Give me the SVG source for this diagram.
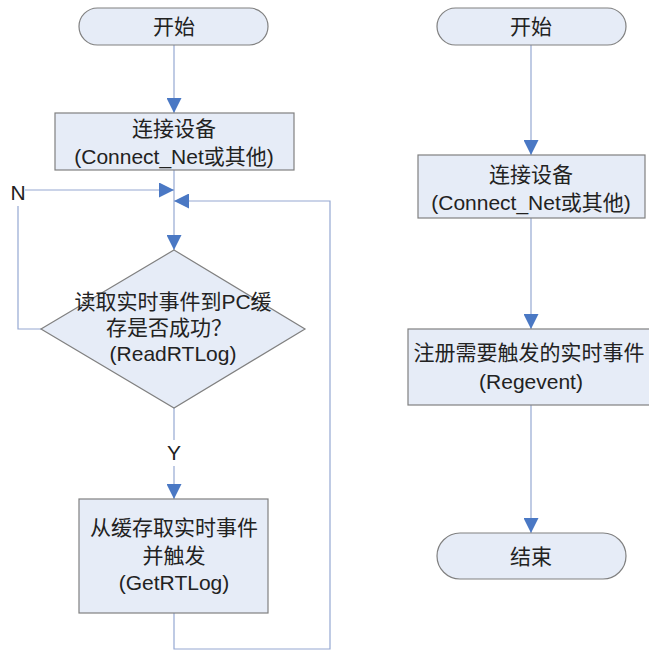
<svg xmlns="http://www.w3.org/2000/svg" width="649" height="650" viewBox="0 0 649 650">
<defs>
<marker id="ah" viewBox="0 0 15 15" refX="15" refY="7.5" markerWidth="15" markerHeight="15" markerUnits="userSpaceOnUse" orient="auto">
<path d="M0,0 L15,7.5 L0,15 z" fill="#4A78C4"/>
</marker>
<style>
.node{fill:#E6ECF7;stroke:#808080;stroke-width:1.2}
.conn{fill:none;stroke:#95A8D2;stroke-width:1.2}
.arr{marker-end:url(#ah)}
text{font-family:"Liberation Sans","Noto Sans CJK SC",sans-serif;font-size:21px;fill:#222;text-anchor:middle}
</style>
</defs>
<rect width="649" height="650" fill="#fff"/>
<g id="connectors">
<path class="conn arr" d="M174,45 V113"/>
<path class="conn arr" d="M174,170 V250"/>
<path class="conn" d="M41,329 H18 V206"/>
<path class="conn arr" d="M25,190 H174"/>
<path class="conn arr" d="M174,613 V649 H330 V201 H174"/>
<path class="conn" d="M174,408 V440"/>
<path class="conn arr" d="M174,466 V499"/>
<path class="conn arr" d="M531,45 V155"/>
<path class="conn arr" d="M531,218 V329"/>
<path class="conn arr" d="M531,405 V533"/>
<text x="18" y="200">N</text>
<text x="174" y="460">Y</text>
</g>
<g id="start1">
<rect class="node" x="79" y="8" width="189" height="37" rx="18.5"/>
<text x="174" y="34">开始</text>
</g>
<g id="connect1">
<rect class="node" x="55" y="113" width="239" height="57"/>
<text x="174" y="136">连接设备</text>
<text x="174" y="164">(Connect_Net或其他)</text>
</g>
<g id="readrtlog">
<polygon class="node" points="174,250 305,329 174,408 41,329"/>
<text x="173" y="309">读取实时事件到PC缓</text>
<text x="169" y="335">存是否成功？</text>
<text x="173" y="361">(ReadRTLog)</text>
</g>
<g id="getrtlog">
<rect class="node" x="79" y="499" width="189" height="114"/>
<text x="174" y="535">从缓存取实时事件</text>
<text x="174" y="563">并触发</text>
<text x="174" y="590">(GetRTLog)</text>
</g>
<g id="start2">
<rect class="node" x="437" y="8" width="189" height="37" rx="18.5"/>
<text x="531" y="34">开始</text>
</g>
<g id="connect2">
<rect class="node" x="418" y="155" width="227" height="63"/>
<text x="531" y="182">连接设备</text>
<text x="531" y="210">(Connect_Net或其他)</text>
</g>
<g id="regevent">
<rect class="node" x="408" y="329" width="246" height="76"/>
<text x="529" y="360">注册需要触发的实时事件</text>
<text x="531" y="389">(Regevent)</text>
</g>
<g id="end">
<rect class="node" x="437" y="533" width="189" height="46" rx="23"/>
<text x="531" y="564">结束</text>
</g>
</svg>
